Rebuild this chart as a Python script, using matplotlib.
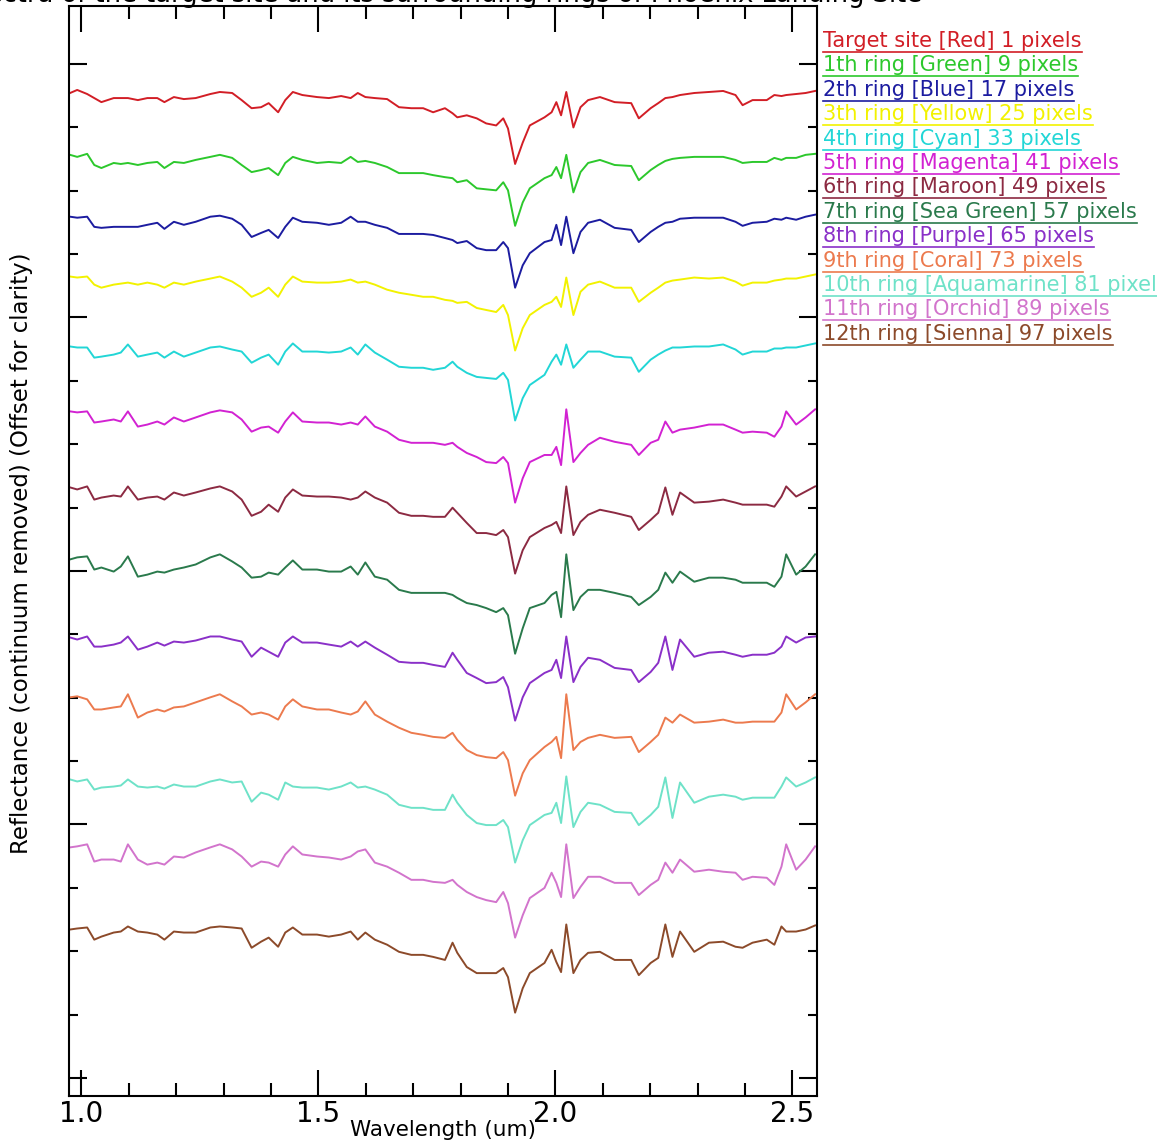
import matplotlib
matplotlib.use("Agg")
import matplotlib.pyplot as plt
from matplotlib.lines import Line2D
from matplotlib.ticker import MultipleLocator

# wavelength grid (um)
wavelength = [0.976, 0.991, 1.012, 1.027, 1.042, 1.068, 1.083, 1.098, 1.119, 1.139,
              1.160, 1.175, 1.195, 1.216, 1.241, 1.272, 1.292, 1.318, 1.338, 1.359,
              1.379, 1.395, 1.415, 1.430, 1.446, 1.466, 1.497, 1.522, 1.548, 1.568,
              1.583, 1.599, 1.619, 1.645, 1.670, 1.696, 1.721, 1.742, 1.767, 1.783,
              1.793, 1.813, 1.834, 1.854, 1.875, 1.890, 1.900, 1.915, 1.931, 1.946,
              1.977, 1.992, 2.002, 2.012, 2.023, 2.038, 2.053, 2.069, 2.094, 2.125,
              2.160, 2.176, 2.201, 2.217, 2.232, 2.247, 2.263, 2.293, 2.324, 2.354,
              2.380, 2.395, 2.416, 2.446, 2.462, 2.477, 2.487, 2.508, 2.528, 2.548]

# continuum removed reflectance, one list per ring
target = [1.002, 1.005, 1.001, 0.997, 0.993, 0.997, 0.997, 0.997, 0.995, 0.997,
          0.997, 0.993, 0.998, 0.996, 0.997, 1.001, 1.003, 1.002, 0.995, 0.987,
          0.988, 0.992, 0.983, 0.995, 1.003, 1.000, 0.998, 0.997, 0.999, 0.997,
          1.002, 0.998, 0.997, 0.996, 0.988, 0.987, 0.987, 0.983, 0.987, 0.982,
          0.978, 0.980, 0.977, 0.972, 0.970, 0.977, 0.967, 0.932, 0.953, 0.970,
          0.978, 0.983, 0.993, 0.980, 1.003, 0.968, 0.988, 0.995, 0.998, 0.993,
          0.992, 0.977, 0.987, 0.992, 0.997, 0.998, 1.000, 1.002, 1.003, 1.004,
          1.000, 0.990, 0.995, 0.995, 1.000, 0.999, 1.000, 1.001, 1.002, 1.004]
ring1 = [1.010, 1.008, 1.011, 1.000, 0.997, 1.002, 1.001, 1.002, 1.000, 1.002,
         1.003, 0.997, 1.003, 1.002, 1.005, 1.008, 1.010, 1.007, 1.000, 0.993,
         0.995, 0.997, 0.990, 1.002, 1.008, 1.005, 1.002, 1.003, 1.002, 1.008,
         1.003, 1.004, 1.002, 0.998, 0.992, 0.992, 0.992, 0.990, 0.988, 0.987,
         0.983, 0.985, 0.977, 0.976, 0.975, 0.983, 0.975, 0.940, 0.963, 0.977,
         0.987, 0.990, 0.998, 0.987, 1.010, 0.973, 0.993, 1.002, 1.005, 1.000,
         0.999, 0.985, 0.995, 1.000, 1.004, 1.006, 1.007, 1.008, 1.008, 1.008,
         1.005, 1.002, 1.003, 1.003, 1.007, 1.005, 1.007, 1.007, 1.010, 1.011]
ring2 = [1.018, 1.017, 1.018, 1.008, 1.007, 1.008, 1.008, 1.008, 1.008, 1.010,
         1.012, 1.006, 1.013, 1.010, 1.013, 1.018, 1.019, 1.016, 1.010, 0.998,
         1.002, 1.005, 0.997, 1.008, 1.017, 1.013, 1.012, 1.010, 1.012, 1.018,
         1.013, 1.013, 1.010, 1.007, 1.001, 1.001, 1.001, 1.000, 0.997, 0.995,
         0.992, 0.994, 0.987, 0.985, 0.985, 0.993, 0.987, 0.948, 0.970, 0.982,
         0.993, 0.995, 1.010, 0.990, 1.018, 0.982, 1.003, 1.012, 1.015, 1.007,
         1.005, 0.993, 1.003, 1.008, 1.012, 1.013, 1.016, 1.017, 1.017, 1.017,
         1.013, 1.009, 1.012, 1.013, 1.016, 1.015, 1.017, 1.015, 1.018, 1.020]
ring3 = [1.028, 1.027, 1.028, 1.020, 1.017, 1.020, 1.021, 1.022, 1.020, 1.022,
         1.020, 1.017, 1.022, 1.020, 1.023, 1.026, 1.028, 1.023, 1.017, 1.008,
         1.012, 1.017, 1.008, 1.020, 1.028, 1.023, 1.022, 1.022, 1.023, 1.025,
         1.022, 1.023, 1.020, 1.015, 1.012, 1.010, 1.008, 1.008, 1.005, 1.004,
         1.002, 1.003, 0.997, 0.995, 0.993, 1.000, 0.990, 0.955, 0.977, 0.990,
         1.000, 1.003, 1.008, 0.998, 1.027, 0.990, 1.013, 1.020, 1.023, 1.017,
         1.017, 1.003, 1.012, 1.017, 1.022, 1.024, 1.025, 1.027, 1.026, 1.027,
         1.023, 1.019, 1.022, 1.022, 1.024, 1.025, 1.026, 1.026, 1.028, 1.030]
ring4 = [1.028, 1.027, 1.027, 1.017, 1.018, 1.020, 1.022, 1.030, 1.018, 1.020,
         1.022, 1.017, 1.023, 1.018, 1.022, 1.027, 1.028, 1.025, 1.023, 1.012,
         1.017, 1.020, 1.010, 1.023, 1.031, 1.023, 1.023, 1.022, 1.023, 1.027,
         1.020, 1.030, 1.022, 1.015, 1.008, 1.007, 1.007, 1.005, 1.007, 1.013,
         1.008, 1.002, 0.998, 0.997, 0.996, 1.002, 0.995, 0.955, 0.977, 0.990,
         1.000, 1.013, 1.020, 1.010, 1.030, 1.007, 1.015, 1.023, 1.023, 1.018,
         1.017, 1.003, 1.015, 1.020, 1.024, 1.027, 1.027, 1.028, 1.028, 1.030,
         1.025, 1.020, 1.023, 1.023, 1.026, 1.026, 1.027, 1.027, 1.029, 1.031]
ring5 = [1.033, 1.032, 1.033, 1.022, 1.023, 1.025, 1.023, 1.033, 1.018, 1.020,
         1.023, 1.020, 1.027, 1.023, 1.027, 1.032, 1.034, 1.032, 1.025, 1.013,
         1.017, 1.018, 1.012, 1.023, 1.032, 1.023, 1.022, 1.022, 1.020, 1.022,
         1.020, 1.028, 1.018, 1.013, 1.005, 1.002, 1.002, 1.002, 1.000, 1.002,
         0.998, 0.992, 0.988, 0.983, 0.982, 0.988, 0.982, 0.943, 0.967, 0.983,
         0.990, 0.990, 0.998, 0.980, 1.035, 0.983, 0.992, 1.000, 1.007, 1.003,
         1.000, 0.990, 1.002, 1.005, 1.023, 1.012, 1.015, 1.017, 1.020, 1.020,
         1.015, 1.012, 1.013, 1.012, 1.008, 1.018, 1.033, 1.020, 1.027, 1.035]
ring6 = [1.027, 1.025, 1.028, 1.015, 1.017, 1.019, 1.018, 1.028, 1.015, 1.017,
         1.018, 1.015, 1.022, 1.019, 1.022, 1.026, 1.028, 1.023, 1.015, 0.999,
         1.003, 1.010, 1.003, 1.017, 1.025, 1.019, 1.018, 1.018, 1.017, 1.015,
         1.017, 1.023, 1.017, 1.012, 1.002, 0.999, 0.999, 0.998, 0.998, 1.007,
         1.002, 0.992, 0.982, 0.982, 0.980, 0.985, 0.978, 0.942, 0.965, 0.978,
         0.987, 0.990, 0.993, 0.982, 1.028, 0.980, 0.993, 1.000, 1.005, 1.002,
         0.998, 0.985, 0.995, 1.002, 1.027, 1.000, 1.022, 1.012, 1.013, 1.015,
         1.012, 1.010, 1.010, 1.010, 1.008, 1.018, 1.028, 1.018, 1.023, 1.028]
ring7 = [1.025, 1.027, 1.028, 1.015, 1.017, 1.013, 1.018, 1.028, 1.008, 1.010,
         1.013, 1.012, 1.015, 1.017, 1.020, 1.027, 1.030, 1.023, 1.017, 1.007,
         1.008, 1.012, 1.010, 1.017, 1.024, 1.015, 1.015, 1.013, 1.013, 1.018,
         1.010, 1.022, 1.008, 1.005, 0.995, 0.992, 0.992, 0.992, 0.992, 0.990,
         0.987, 0.982, 0.980, 0.977, 0.973, 0.977, 0.970, 0.932, 0.957, 0.977,
         0.982, 0.990, 0.993, 0.968, 1.030, 0.975, 0.988, 0.995, 0.995, 0.992,
         0.988, 0.980, 0.988, 0.995, 1.012, 1.002, 1.013, 1.003, 1.007, 1.007,
         1.005, 1.002, 1.002, 1.002, 0.998, 1.008, 1.030, 1.010, 1.018, 1.030]
ring8 = [1.017, 1.015, 1.018, 1.008, 1.008, 1.010, 1.012, 1.018, 1.005, 1.008,
         1.012, 1.009, 1.013, 1.012, 1.014, 1.018, 1.018, 1.015, 1.013, 0.998,
         1.007, 1.003, 0.998, 1.012, 1.018, 1.012, 1.012, 1.010, 1.008, 1.013,
         1.008, 1.013, 1.007, 1.000, 0.993, 0.992, 0.992, 0.990, 0.988, 1.002,
         0.995, 0.982, 0.977, 0.972, 0.973, 0.978, 0.968, 0.935, 0.958, 0.972,
         0.982, 0.985, 0.995, 0.977, 1.018, 0.973, 0.988, 0.997, 0.995, 0.987,
         0.985, 0.973, 0.983, 0.992, 1.018, 0.985, 1.015, 0.998, 1.002, 1.003,
         1.000, 0.998, 1.000, 1.000, 1.002, 1.008, 1.018, 1.012, 1.017, 1.018]
ring9 = [1.027, 1.028, 1.025, 1.015, 1.015, 1.017, 1.018, 1.030, 1.007, 1.012,
         1.015, 1.013, 1.017, 1.018, 1.022, 1.027, 1.030, 1.023, 1.018, 1.010,
         1.012, 1.010, 1.005, 1.018, 1.025, 1.018, 1.015, 1.015, 1.012, 1.010,
         1.013, 1.023, 1.010, 1.003, 0.997, 0.992, 0.990, 0.988, 0.987, 0.992,
         0.985, 0.975, 0.970, 0.968, 0.967, 0.973, 0.965, 0.930, 0.952, 0.965,
         0.978, 0.983, 0.988, 0.967, 1.030, 0.975, 0.983, 0.987, 0.990, 0.987,
         0.988, 0.973, 0.983, 0.990, 1.007, 1.002, 1.010, 1.002, 1.003, 1.005,
         1.002, 1.002, 1.003, 1.003, 1.003, 1.012, 1.030, 1.015, 1.022, 1.030]
ring10 = [1.015, 1.013, 1.015, 1.005, 1.007, 1.008, 1.009, 1.015, 1.008, 1.007,
          1.008, 1.006, 1.010, 1.008, 1.008, 1.013, 1.015, 1.012, 1.013, 0.993,
          1.002, 1.000, 0.995, 1.012, 1.008, 1.007, 1.007, 1.005, 1.008, 1.012,
          1.007, 1.008, 1.005, 1.000, 0.990, 0.987, 0.987, 0.985, 0.985, 1.000,
          0.992, 0.980, 0.972, 0.970, 0.970, 0.975, 0.968, 0.933, 0.955, 0.970,
          0.980, 0.982, 0.992, 0.972, 1.018, 0.968, 0.983, 0.992, 0.990, 0.983,
          0.982, 0.970, 0.980, 0.988, 1.017, 0.977, 1.012, 0.992, 0.998, 1.000,
          0.998, 0.995, 0.997, 0.997, 0.997, 1.008, 1.017, 1.008, 1.012, 1.017]
ring11 = [1.017, 1.018, 1.020, 1.003, 1.005, 1.005, 1.003, 1.020, 1.005, 1.000,
          1.002, 1.000, 1.008, 1.007, 1.012, 1.017, 1.020, 1.015, 1.008, 0.998,
          1.003, 1.002, 0.998, 1.010, 1.018, 1.010, 1.008, 1.007, 1.005, 1.008,
          1.013, 1.015, 1.002, 0.998, 0.992, 0.985, 0.985, 0.983, 0.982, 0.985,
          0.980, 0.973, 0.968, 0.965, 0.963, 0.973, 0.962, 0.928, 0.950, 0.967,
          0.977, 0.992, 0.982, 0.968, 1.020, 0.967, 0.978, 0.988, 0.988, 0.982,
          0.982, 0.970, 0.980, 0.985, 1.002, 0.992, 1.005, 0.993, 0.995, 0.993,
          0.992, 0.985, 0.988, 0.987, 0.980, 0.998, 1.020, 0.995, 1.005, 1.018]
ring12 = [1.005, 1.006, 1.007, 0.995, 0.998, 1.002, 1.003, 1.008, 1.003, 1.002,
          1.000, 0.995, 1.003, 1.002, 1.002, 1.007, 1.008, 1.007, 1.006, 0.987,
          0.993, 0.997, 0.988, 1.002, 1.007, 1.000, 1.000, 0.998, 1.000, 1.003,
          0.995, 1.002, 0.995, 0.990, 0.983, 0.980, 0.980, 0.978, 0.975, 0.992,
          0.982, 0.968, 0.962, 0.962, 0.962, 0.967, 0.958, 0.923, 0.947, 0.962,
          0.972, 0.985, 0.973, 0.963, 1.010, 0.962, 0.975, 0.982, 0.983, 0.975,
          0.975, 0.960, 0.972, 0.977, 1.010, 0.978, 1.003, 0.983, 0.992, 0.993,
          0.988, 0.987, 0.992, 0.995, 0.990, 1.008, 1.003, 1.003, 1.005, 1.009]

labels = ["Target site [Red] 1 pixels", "1th ring [Green] 9 pixels",
          "2th ring [Blue] 17 pixels", "3th ring [Yellow] 25 pixels",
          "4th ring [Cyan] 33 pixels", "5th ring [Magenta] 41 pixels",
          "6th ring [Maroon] 49 pixels", "7th ring [Sea Green] 57 pixels",
          "8th ring [Purple] 65 pixels", "9th ring [Coral] 73 pixels",
          "10th ring [Aquamarine] 81 pixels", "11th ring [Orchid] 89 pixels",
          "12th ring [Sienna] 97 pixels"]
colors = ["#d21e26", "#2cc82c", "#1c1ca0", "#f2f200", "#22d6d6", "#d222d2",
          "#8c2a42", "#2a7a4c", "#8a30c8", "#ec7a4e", "#6ee2c8", "#d274cc",
          "#8c4a2a"]
spectra = [target, ring1, ring2, ring3, ring4, ring5, ring6,
           ring7, ring8, ring9, ring10, ring11, ring12]

offset_start = 0.0306
offset_step = 0.069

W, H = 1157, 1145
fig = plt.figure(figsize=(W / 100, H / 100), dpi=100)
ax = fig.add_axes([69 / W, 49 / H, 748 / W, 1090 / H])

for k, spec in enumerate(spectra):
    shifted = [r - offset_start - offset_step * k for r in spec]
    ax.plot(wavelength, shifted, color=colors[k], lw=1.4)

ax.set_xlim(0.9737, 2.552)
ax.set_ylim(-0.0178, 1.0572)

ax.xaxis.set_major_locator(MultipleLocator(0.5))
ax.xaxis.set_minor_locator(MultipleLocator(0.1))
ax.yaxis.set_major_locator(MultipleLocator(0.25))
ax.yaxis.set_minor_locator(MultipleLocator(0.0625))
ax.tick_params(axis="both", which="both", direction="in", top=True, right=True,
               width=1.5, color="black")
ax.tick_params(axis="x", which="major", length=19, pad=3)
ax.tick_params(axis="x", which="minor", length=9.5)
ax.tick_params(axis="y", which="major", length=13)
ax.tick_params(axis="y", which="minor", length=6.5)
ax.set_yticklabels([])
ax.set_xticks([1.0, 1.5, 2.0, 2.5])
ax.set_xticklabels(["1.0", "1.5", "2.0", "2.5"],
                   family=["Liberation Sans Narrow", "DejaVu Sans"], fontsize=20)
for s in ax.spines.values():
    s.set_linewidth(1.5)

fig.text(443 / W, 1 - 1130 / H, "Wavelength (um)", ha="center", va="center", fontsize=15.5)
fig.text(22 / W, 1 - 553 / H, "Reflectance (continuum removed) (Offset for clarity)",
         rotation=90, ha="center", va="center", fontsize=16.5)
# title sits mostly above the top edge, as in the source image
fig.text(922 / W, 1.004, "Spectra of the target site and its surrounding rings of Phoenix Landing Site",
         ha="right", va="center", fontsize=18.5)

# legend: coloured text with a line underneath
texts = []
for i, (lab, c) in enumerate(zip(labels, colors)):
    t = fig.text(823 / W, 1 - (47 + 24.4 * i) / H, lab, color=c, fontsize=15, va="baseline")
    texts.append(t)

fig.canvas.draw()
r = fig.canvas.get_renderer()
for i, t in enumerate(texts):
    bb = t.get_window_extent(r)
    y = 1 - (52 + 24.4 * i) / H
    fig.add_artist(Line2D([bb.x0 / W, bb.x1 / W], [y, y], transform=fig.transFigure,
                          color=colors[i], lw=1.2))

fig.savefig("out.png", dpi=100)
